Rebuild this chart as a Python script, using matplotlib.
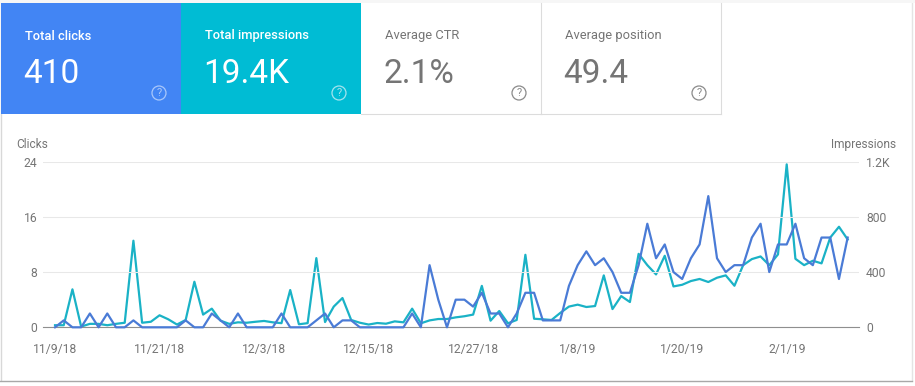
import matplotlib
matplotlib.use("Agg")
import matplotlib.pyplot as plt
from matplotlib.patches import Rectangle, Circle
import numpy as np

W, H = 915, 386

# data
clicks = [0, 1, 0, 0, 2, 0, 2, 0, 0, 1, 0, 0, 0, 0, 0, 1, 0, 0, 2, 1, 0, 2, 0, 0, 0, 0, 2, 0, 0, 0,
          1, 2, 0, 1, 1, 0, 0, 0, 0, 0, 0, 2, 0, 9, 4, 0, 4, 4, 3, 5, 2, 2, 0, 2, 5, 5, 1, 1, 1, 6,
          9, 11, 9, 10, 8, 5, 5, 9, 15, 10, 12, 8, 7, 10, 12, 19, 10, 8, 9, 9, 13, 15, 8, 12, 12, 15,
          10, 9, 13, 13, 7, 13]
impressions = [15, 15, 275, 5, 25, 25, 15, 25, 33, 627, 33, 40, 87, 58, 20, 53, 330, 92, 135, 48,
               25, 36, 33, 40, 46, 36, 30, 270, 22, 30, 501, 38, 150, 212, 53, 33, 20, 31, 26, 43,
               36, 135, 29, 50, 60, 60, 72, 80, 92, 300, 48, 118, 29, 53, 525, 62, 58, 53, 104, 150,
               164, 147, 154, 376, 132, 226, 183, 532, 450, 383, 518, 296, 308, 335, 350, 328, 359,
               376, 301, 450, 494, 513, 450, 528, 1180, 496, 450, 482, 463, 650, 728, 636]
date_labels = ["11/9/18", "11/21/18", "12/3/18", "12/15/18", "12/27/18", "1/8/19", "1/20/19", "2/1/19"]
left_ticks = [0, 8, 16, 24]
right_ticks = [0, 400, 800, 1200]
right_labels = ["0", "400", "800", "1.2K"]
card_titles = ["Total clicks", "Total impressions", "Average CTR", "Average position"]
card_values = ["410", "19.4K", "2.1%", "49.4"]
card_colors = ["#4285f4", "#00bcd4", "white", "white"]

plt.rcParams["font.family"] = ["Roboto", "DejaVu Sans"]
GREY = "#757575"

fig = plt.figure(figsize=(W / 100, H / 100), dpi=100, facecolor="white")


def box(x0, y_top, x1, y_bottom):
    # pixel box (from top left) -> figure fractions for add_axes
    return [x0 / W, 1 - y_bottom / H, (x1 - x0) / W, (y_bottom - y_top) / H]


# background layer in pixel coordinates
bg = fig.add_axes([0, 0, 1, 1])
bg.set_xlim(0, W)
bg.set_ylim(H, 0)
bg.axis("off")
bg.add_patch(Rectangle((0, 0), W, 3, fc="#f6f6f6", ec="none"))
bg.plot([0.5, 0.5], [3, 380], color="#d8d8d8", lw=1, zorder=0)
bg.plot([912, 912], [3, 380], color="#e4e4e4", lw=1, zorder=0)
bg.plot([0, 912], [381, 381], color="#a8a8a8", lw=1, zorder=0)

# metric cards
card_w = 180
for i in range(4):
    x0 = 1 + i * card_w
    selected = i < 2
    bg.add_patch(Rectangle((x0, 3), card_w, 111, fc=card_colors[i], ec="none", zorder=1))
    if not selected:
        bg.plot([x0 + card_w - 0.5] * 2, [3, 114], color="#dcdcdc", lw=0.8, zorder=2)
        bg.plot([x0, x0 + card_w], [114, 114], color="#dcdcdc", lw=0.8, zorder=2)
    fg = "white" if selected else GREY
    bg.text(x0 + 24, 39.5, card_titles[i], color=fg, fontsize=9.3, va="baseline",
            fontweight="medium" if selected else "normal")
    bg.text(x0 + 22.5, 83, card_values[i], color=fg, fontsize=24, va="baseline")
    qc = "#a9c8fb" if i == 0 else "#a5e4ee" if i == 1 else "#8a8a8a"
    bg.add_patch(Circle((x0 + 158, 93), 7, fc="none", ec=qc, lw=0.9, zorder=3))
    bg.text(x0 + 158, 93, "?", color=qc, fontsize=8, ha="center", va="center", zorder=3)

# chart
days = np.arange(len(clicks))
ax = fig.add_axes(box(43, 161.6, 859, 327.3), facecolor="none")
ax2 = ax.twinx()
ax.set_xlim(-1.38, 92.3)
ax.set_ylim(0, 24)
ax2.set_ylim(0, 1200)
ax.set_yticks(left_ticks)
ax2.set_yticks(right_ticks, right_labels)
ax.set_xticks(days[::12], date_labels)
ax.tick_params(axis="both", length=0, labelsize=8.7, labelcolor=GREY)
ax2.tick_params(axis="both", length=0, labelsize=8.7, labelcolor=GREY)
ax.tick_params(axis="x", pad=11.3)
ax.tick_params(axis="y", pad=4)
ax2.tick_params(axis="y", pad=5)
for a in (ax, ax2):
    for s in a.spines.values():
        s.set_visible(False)
ax.grid(axis="y", color="#e8e8e8", lw=0.75)
ax.set_axisbelow(True)
ax.spines["bottom"].set_visible(True)
ax.spines["bottom"].set_color("#8f8f8f")
ax.spines["bottom"].set_linewidth(0.8)
ax.plot(days, clicks, color="#4a7bd6", lw=1.6, clip_on=False, zorder=4)
ax2.plot(days, impressions, color="#1ab2c6", lw=1.6, clip_on=False, zorder=3)
ax2.set_zorder(1)
ax.set_zorder(2)

bg.text(16.5, 144.5, "Clicks", color=GREY, fontsize=8.6, va="center")
bg.text(896, 144.5, "Impressions", color=GREY, fontsize=8.6, va="center", ha="right")

fig.savefig("out.png", dpi=100)
